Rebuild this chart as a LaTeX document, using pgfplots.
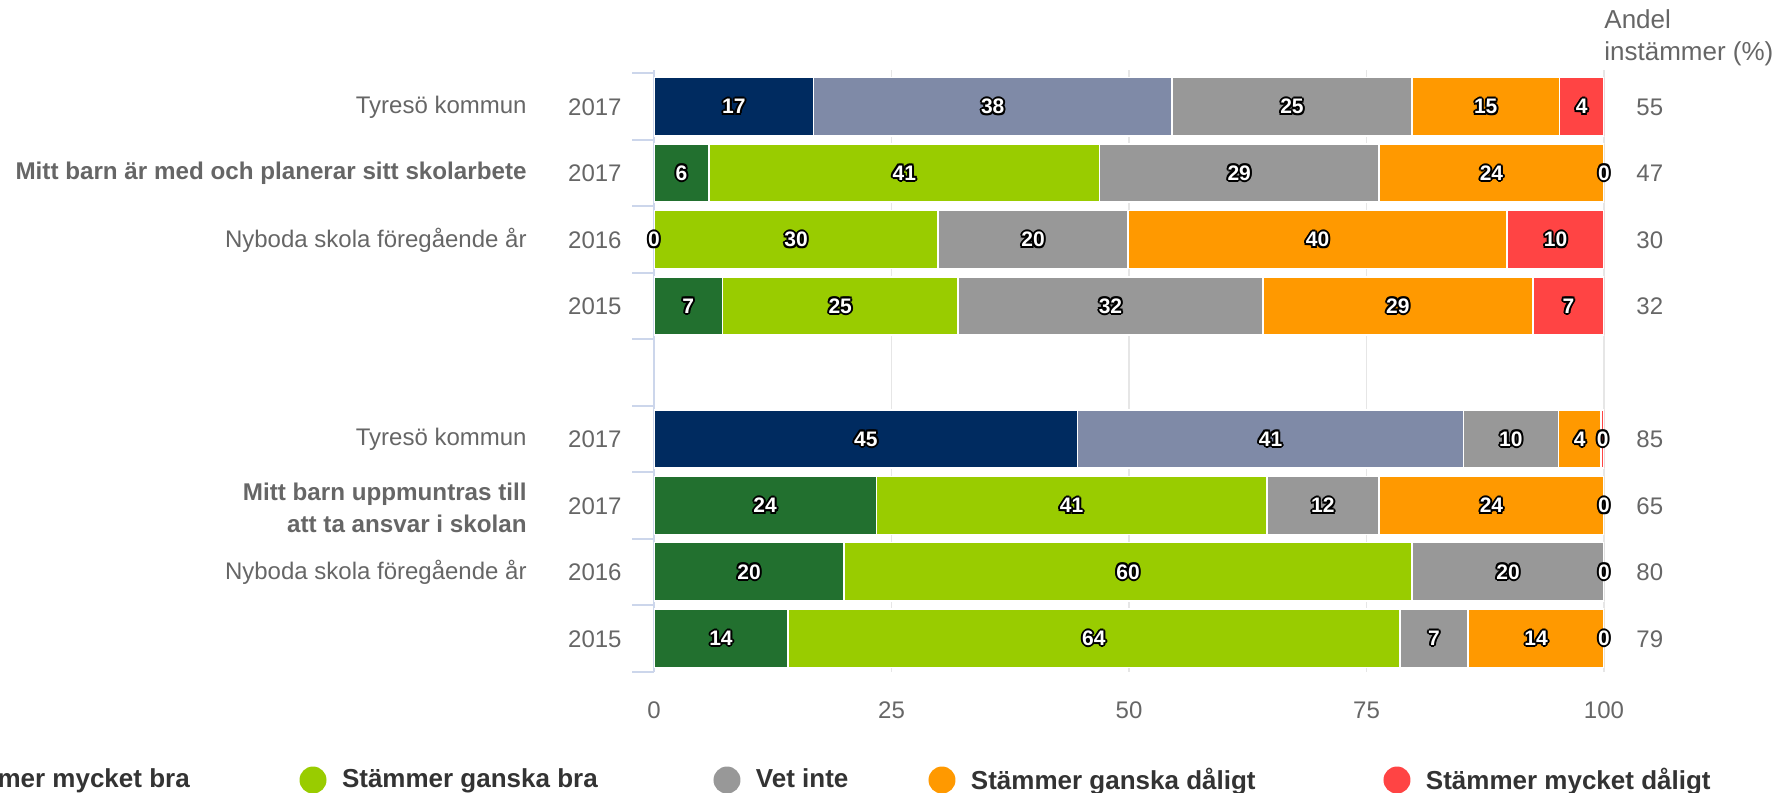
\documentclass[border=0pt]{standalone}
\usepackage{pgfplots}
\pgfplotsset{compat=1.18}
\usepackage{pgfplotstable}
\usepackage{fontspec}
\setmainfont{Liberation Sans}

\definecolor{lbl}{HTML}{666666}
\definecolor{legt}{HTML}{333333}
\definecolor{axl}{HTML}{CCD6EB}
\definecolor{grd}{HTML}{E6E6E6}
\definecolor{cnavy}{HTML}{002B60}
\definecolor{cslate}{HTML}{7F8AA7}
\definecolor{cdkgreen}{HTML}{22702F}
\definecolor{cltgreen}{HTML}{99CC00}
\definecolor{cgray}{HTML}{989898}
\definecolor{corange}{HTML}{FF9900}
\definecolor{cred}{HTML}{FF4444}

\protected\def\ocp#1#2#3{\makebox[0pt][l]{\hspace*{#1}\raisebox{#2}{\textcolor{black}{#3}}}}
\protected\def\outl#1{\ocp{1pt}{0pt}{#1}\ocp{-1pt}{0pt}{#1}\ocp{0pt}{1pt}{#1}\ocp{0pt}{-1pt}{#1}\ocp{0.71pt}{0.71pt}{#1}\ocp{-0.71pt}{0.71pt}{#1}\ocp{0.71pt}{-0.71pt}{#1}\ocp{-0.71pt}{-0.71pt}{#1}\textcolor{white}{#1}}

% rows: 0 Tyreso 2017, 1 2017, 2 2016, 3 2015, (4 gap), 5 Tyreso 2017, 6 2017, 7 2016, 8 2015
\pgfplotstableread{
row val
0 16.8
1 0
2 0
3 0
5 44.6
6 0
7 0
8 0
}\navydata
\pgfplotstableread{
row val
0 37.7
1 0
2 0
3 0
5 40.6
6 0
7 0
8 0
}\slatedata
\pgfplotstableread{
row val
0 0
1 5.8
2 0
3 7.2
5 0
6 23.4
7 20
8 14.1
}\dkdata
\pgfplotstableread{
row val
0 0
1 41.1
2 29.9
3 24.8
5 0
6 41.1
7 59.8
8 64.4
}\ltdata
\pgfplotstableread{
row val
0 25.3
1 29.4
2 20.0
3 32.1
5 10.0
6 11.8
7 20.2
8 7.2
}\graydata
\pgfplotstableread{
row val
0 15.5
1 23.7
2 39.9
3 28.4
5 4.5
6 23.7
7 0
8 14.3
}\orngdata
\pgfplotstableread{
row val
0 4.7
1 0
2 10.2
3 7.5
5 0.3
6 0
7 0
8 0
}\rddata
% label centres (x) and printed values
\pgfplotstableread{
row c l
0 8.4 17
0 35.65 38
0 67.15 25
0 87.55 15
0 97.65 4
1 2.9 6
1 26.35 41
1 61.6 29
1 88.15 24
1 100 0
2 0 0
2 14.95 30
2 39.9 20
2 69.85 40
2 94.9 10
3 3.6 7
3 19.6 25
3 48.05 32
3 78.3 29
3 96.25 7
5 22.3 45
5 64.9 41
5 90.2 10
5 97.45 4
5 99.85 0
6 11.7 24
6 43.95 41
6 70.4 12
6 88.15 24
6 100 0
7 10 20
7 49.9 60
7 89.9 20
7 100 0
8 7.05 14
8 46.3 64
8 82.1 7
8 92.85 14
8 100 0
}\labeldata

\tikzset{
  lab/.style={inner sep=0pt, text=lbl, font=\fontsize{12}{16}\selectfont},
  blab/.style={inner sep=0pt, text=lbl, font=\fontsize{12.1}{16}\selectfont\bfseries},
}

\begin{document}
\begin{tikzpicture}
\path (0,0) rectangle (895pt,396.5pt);
\begin{axis}[
  at={(327pt,60.74pt)}, anchor=south west,
  width=475pt, height=300.69pt, scale only axis,
  xbar stacked, bar width=29.1pt,
  xmin=0, xmax=100, ymin=-0.55, ymax=8.5, y dir=reverse,
  axis lines*=left,
  x axis line style={draw=none},
  y axis line style={draw=axl, line width=1pt},
  xtick={0,25,50,75,100},
  xticklabels={0,25,50,75,100},
  xmajorgrids, grid style={draw=grd, line width=0.6pt},
  tick align=outside,
  major tick length=11pt,
  xtick style={draw=none},
  ytick style={draw=axl, line width=1pt},
  ytick={-0.5,0.5,1.5,2.5,3.5,4.5,5.5,6.5,7.5,8.5},
  yticklabels={},
  xticklabel style={font=\fontsize{12}{14}\selectfont, text=lbl, yshift=-0.5pt},
]
\addplot[fill=cnavy, draw=white, line width=0.75pt] table[x=val, y=row] {\navydata};
\addplot[fill=cslate, draw=white, line width=0.75pt] table[x=val, y=row] {\slatedata};
\addplot[fill=cdkgreen, draw=white, line width=0.75pt] table[x=val, y=row] {\dkdata};
\addplot[fill=cltgreen, draw=white, line width=0.75pt] table[x=val, y=row] {\ltdata};
\addplot[fill=cgray, draw=white, line width=0.75pt] table[x=val, y=row] {\graydata};
\addplot[fill=corange, draw=white, line width=0.75pt] table[x=val, y=row] {\orngdata};
\addplot[fill=cred, draw=white, line width=0.75pt] table[x=val, y=row] {\rddata};
\end{axis}

\begin{axis}[
  at={(327pt,60.74pt)}, anchor=south west,
  width=475pt, height=300.69pt, scale only axis,
  hide axis, xmin=0, xmax=100, ymin=-0.55, ymax=8.5, y dir=reverse,
  clip=false,
  legend columns=5,
  legend cell align=left,
  legend image code/.code={\fill[#1] (6.75pt,0pt) circle (6.75pt);},
  legend style={at={(-0.80263,-0.18039)}, anchor=west, draw=none, fill=none, overlay,
    inner sep=0pt, outer sep=0pt,
    nodes={inner sep=0pt, text=legt, font=\fontsize{13}{15}\selectfont\bfseries},
    /tikz/every odd column/.append style={column sep=7.75pt},
    /tikz/every even column/.append style={column sep=0pt}},
]
\addplot[only marks, mark=*, mark size=0pt, mark options={draw=none, fill=none},
  point meta=explicit symbolic,
  nodes near coords={\outl{\pgfplotspointmeta}},
  every node near coord/.style={anchor=center, inner sep=0pt, font=\fontsize{10.5}{12}\selectfont\bfseries},
  forget plot] table[x=c, y=row, meta=l] {\labeldata};
\addlegendimage{fill=cdkgreen, draw=none}
\addlegendentry{\makebox[182.75pt][l]{Stämmer mycket bra}}
\addlegendimage{fill=cltgreen, draw=none}
\addlegendentry{\makebox[185.75pt][l]{Stämmer ganska bra}}
\addlegendimage{fill=cgray, draw=none}
\addlegendentry{\makebox[86.25pt][l]{Vet inte}}
\addlegendimage{fill=corange, draw=none}
\addlegendentry{\makebox[206.25pt][l]{Stämmer ganska dåligt}}
\addlegendimage{fill=cred, draw=none}
\addlegendentry{Stämmer mycket dåligt}
\end{axis}

% row labels (text) at the row centres
\node[lab, anchor=east] at (263.5pt,342.85pt) {Tyresö kommun};
\node[blab, anchor=east] at (263.5pt,309.63pt) {Mitt barn är med och planerar sitt skolarbete};
\node[lab, anchor=east] at (263.5pt,276.4pt) {Nyboda skola föregående år};
\node[lab, anchor=east] at (263.5pt,176.73pt) {Tyresö kommun};
\node[blab, anchor=east, align=right] at (263.5pt,142.5pt) {Mitt barn uppmuntras till\\att ta ansvar i skolan};
\node[lab, anchor=east] at (263.5pt,110.28pt) {Nyboda skola föregående år};
\node[lab, anchor=east] at (311pt,342.85pt) {2017};
\node[lab, anchor=east] at (311pt,309.63pt) {2017};
\node[lab, anchor=east] at (311pt,276.4pt) {2016};
\node[lab, anchor=east] at (311pt,243.18pt) {2015};
\node[lab, anchor=east] at (311pt,176.73pt) {2017};
\node[lab, anchor=east] at (311pt,143.5pt) {2017};
\node[lab, anchor=east] at (311pt,110.28pt) {2016};
\node[lab, anchor=east] at (311pt,77.05pt) {2015};
\node[lab, anchor=west] at (818pt,342.85pt) {55};
\node[lab, anchor=west] at (818pt,309.63pt) {47};
\node[lab, anchor=west] at (818pt,276.4pt) {30};
\node[lab, anchor=west] at (818pt,243.18pt) {32};
\node[lab, anchor=west] at (818pt,176.73pt) {85};
\node[lab, anchor=west] at (818pt,143.5pt) {65};
\node[lab, anchor=west] at (818pt,110.28pt) {80};
\node[lab, anchor=west] at (818pt,77.05pt) {79};
\node[lab, anchor=base west, font=\fontsize{13}{16}\selectfont] at (802pt,382pt) {Andel};
\node[lab, anchor=base west, font=\fontsize{13}{16}\selectfont] at (802pt,366pt) {instämmer (\%)};
\end{tikzpicture}
\end{document}
